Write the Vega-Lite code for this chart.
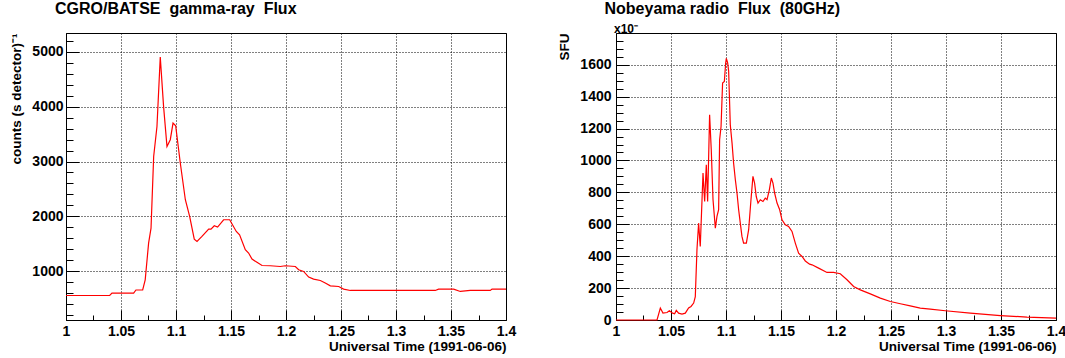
{
  "$schema": "https://vega.github.io/schema/vega-lite/v6.json",
  "padding": {"left": 9, "top": 0, "right": 0, "bottom": 0},
  "background": "white",
  "spacing": 110,
  "bounds": "flush",
  "config": {
    "font": "Liberation Sans",
    "view": {"stroke": "black", "strokeWidth": 1},
    "axis": {
      "labelFont": "Liberation Sans",
      "labelFontWeight": "bold",
      "labelFontSize": 14,
      "labelColor": "black",
      "titleFont": "Liberation Sans",
      "titleFontWeight": "bold",
      "titleFontSize": 13.5,
      "titleColor": "black",
      "domainColor": "black",
      "tickColor": "black",
      "gridColor": "black",
      "gridDash": [1, 2],
      "gridWidth": 1,
      "labelOverlap": false,
      "labelFlush": false,
      "titleAnchor": "end"
    },
    "title": {
      "font": "Liberation Sans",
      "fontSize": 16,
      "fontWeight": "bold",
      "color": "black",
      "anchor": "start",
      "frame": "group",
      "baseline": "alphabetic"
    }
  },
  "datasets": {
    "batse": [
      {"t": 1.0, "v": 554}, {"t": 1.0397, "v": 554}, {"t": 1.0418, "v": 598}, {"t": 1.0615, "v": 598},
      {"t": 1.0636, "v": 655}, {"t": 1.0697, "v": 655}, {"t": 1.072, "v": 841}, {"t": 1.0751, "v": 1511},
      {"t": 1.0773, "v": 1785}, {"t": 1.0797, "v": 3093}, {"t": 1.0827, "v": 3640}, {"t": 1.0857, "v": 4908},
      {"t": 1.0887, "v": 4006}, {"t": 1.0918, "v": 3275}, {"t": 1.0948, "v": 3398}, {"t": 1.0973, "v": 3702},
      {"t": 1.0997, "v": 3653}, {"t": 1.1039, "v": 2972}, {"t": 1.1085, "v": 2302}, {"t": 1.1124, "v": 1997},
      {"t": 1.1166, "v": 1584}, {"t": 1.1191, "v": 1541}, {"t": 1.1236, "v": 1632}, {"t": 1.1297, "v": 1767},
      {"t": 1.1318, "v": 1767}, {"t": 1.1348, "v": 1827}, {"t": 1.1378, "v": 1803}, {"t": 1.1433, "v": 1937},
      {"t": 1.1488, "v": 1937}, {"t": 1.1548, "v": 1723}, {"t": 1.1578, "v": 1663}, {"t": 1.163, "v": 1389},
      {"t": 1.166, "v": 1329}, {"t": 1.1691, "v": 1219}, {"t": 1.1736, "v": 1160}, {"t": 1.1782, "v": 1102},
      {"t": 1.1857, "v": 1097}, {"t": 1.1948, "v": 1084}, {"t": 1.1994, "v": 1097}, {"t": 1.2085, "v": 1084},
      {"t": 1.2115, "v": 1024}, {"t": 1.216, "v": 993}, {"t": 1.2206, "v": 890}, {"t": 1.2251, "v": 854},
      {"t": 1.2312, "v": 828}, {"t": 1.2357, "v": 781}, {"t": 1.2403, "v": 731}, {"t": 1.2479, "v": 719},
      {"t": 1.2524, "v": 671}, {"t": 1.2585, "v": 646}, {"t": 1.3357, "v": 646}, {"t": 1.3387, "v": 671},
      {"t": 1.3524, "v": 671}, {"t": 1.3585, "v": 628}, {"t": 1.3675, "v": 646}, {"t": 1.3857, "v": 646},
      {"t": 1.3873, "v": 671}, {"t": 1.4, "v": 671}
    ],
    "nobe": [
      {"t": 1.0, "v": 0}, {"t": 1.0373, "v": 0}, {"t": 1.0403, "v": 75}, {"t": 1.0427, "v": 43},
      {"t": 1.0464, "v": 47}, {"t": 1.0485, "v": 58}, {"t": 1.0515, "v": 43}, {"t": 1.0533, "v": 39},
      {"t": 1.0548, "v": 60}, {"t": 1.0569, "v": 43}, {"t": 1.06, "v": 37}, {"t": 1.063, "v": 43},
      {"t": 1.066, "v": 75}, {"t": 1.0682, "v": 85}, {"t": 1.0706, "v": 106}, {"t": 1.0721, "v": 147},
      {"t": 1.0736, "v": 440}, {"t": 1.0751, "v": 607}, {"t": 1.0766, "v": 461}, {"t": 1.0782, "v": 754},
      {"t": 1.0791, "v": 921}, {"t": 1.0806, "v": 743}, {"t": 1.0821, "v": 973}, {"t": 1.0833, "v": 743},
      {"t": 1.0851, "v": 1287}, {"t": 1.0866, "v": 1067}, {"t": 1.0882, "v": 754}, {"t": 1.0903, "v": 576},
      {"t": 1.0918, "v": 649}, {"t": 1.0933, "v": 691}, {"t": 1.0942, "v": 1130}, {"t": 1.0955, "v": 1213},
      {"t": 1.0969, "v": 1485}, {"t": 1.0985, "v": 1495}, {"t": 1.0997, "v": 1611}, {"t": 1.1003, "v": 1640},
      {"t": 1.1015, "v": 1611}, {"t": 1.1024, "v": 1560}, {"t": 1.1039, "v": 1224}, {"t": 1.1055, "v": 1109},
      {"t": 1.1069, "v": 984}, {"t": 1.1085, "v": 879}, {"t": 1.11, "v": 796}, {"t": 1.1115, "v": 691},
      {"t": 1.113, "v": 607}, {"t": 1.1145, "v": 524}, {"t": 1.116, "v": 482}, {"t": 1.1185, "v": 482},
      {"t": 1.1206, "v": 566}, {"t": 1.1227, "v": 754}, {"t": 1.1245, "v": 900}, {"t": 1.126, "v": 858},
      {"t": 1.1275, "v": 774}, {"t": 1.1291, "v": 733}, {"t": 1.1312, "v": 754}, {"t": 1.1336, "v": 743},
      {"t": 1.1357, "v": 764}, {"t": 1.1373, "v": 754}, {"t": 1.1394, "v": 816}, {"t": 1.1412, "v": 890},
      {"t": 1.1427, "v": 858}, {"t": 1.1442, "v": 796}, {"t": 1.1464, "v": 733}, {"t": 1.1488, "v": 691},
      {"t": 1.1509, "v": 628}, {"t": 1.1539, "v": 597}, {"t": 1.1569, "v": 586}, {"t": 1.16, "v": 555},
      {"t": 1.163, "v": 482}, {"t": 1.166, "v": 419}, {"t": 1.1691, "v": 398}, {"t": 1.1721, "v": 370},
      {"t": 1.176, "v": 350}, {"t": 1.1782, "v": 346}, {"t": 1.1842, "v": 325}, {"t": 1.1918, "v": 298},
      {"t": 1.1978, "v": 298}, {"t": 1.2039, "v": 290}, {"t": 1.21, "v": 252}, {"t": 1.216, "v": 210},
      {"t": 1.2221, "v": 189}, {"t": 1.2312, "v": 164}, {"t": 1.2403, "v": 137}, {"t": 1.2494, "v": 116},
      {"t": 1.2585, "v": 102}, {"t": 1.2675, "v": 89}, {"t": 1.2766, "v": 75}, {"t": 1.2857, "v": 68},
      {"t": 1.2994, "v": 58}, {"t": 1.3221, "v": 43}, {"t": 1.3494, "v": 28}, {"t": 1.3736, "v": 18},
      {"t": 1.4, "v": 12}
    ],
    "note": [{"label": "x10\u207b"}]
  },
  "hconcat": [
    {
      "width": 440,
      "height": 287,
      "title": {"text": "CGRO/BATSE\u00a0 gamma-ray\u00a0 Flux", "dx": -11, "offset": 16},
      "data": {"name": "batse"},
      "mark": {"type": "line", "color": "#ff0000", "strokeWidth": 1.2, "interpolate": "linear"},
      "encoding": {
        "x": {
          "field": "t", "type": "quantitative",
          "scale": {"domain": [1, 1.4], "nice": false, "zero": false},
          "axis": {
            "title": "Universal Time (1991-06-06)",
            "values": [1, 1.025, 1.05, 1.075, 1.1, 1.125, 1.15, 1.175, 1.2, 1.225, 1.25, 1.275, 1.3, 1.325, 1.35, 1.375, 1.4],
            "format": "~g",
            "labelOverlap": false,
            "labelExpr": "abs(datum.value*20 - round(datum.value*20)) < 0.000001 ? datum.label : ''",
            "tickSize": {"condition": {"test": "abs(datum.value*20 - round(datum.value*20)) < 0.000001", "value": -10}, "value": -5},
            "gridOpacity": {"condition": {"test": "abs(datum.value*20 - round(datum.value*20)) < 0.000001", "value": 1}, "value": 0},
            "labelPadding": 14.5,
            "titlePadding": -4
          }
        },
        "y": {
          "field": "v", "type": "quantitative",
          "scale": {"domain": [107, 5346], "nice": false, "zero": false},
          "axis": {
            "title": "counts (s detector)\u207b\u00b9",
            "values": [200, 400, 600, 800, 1000, 1200, 1400, 1600, 1800, 2000, 2200, 2400, 2600, 2800, 3000, 3200, 3400, 3600, 3800, 4000, 4200, 4400, 4600, 4800, 5000, 5200],
            "format": "d",
            "labelOverlap": false,
            "labelExpr": "datum.value % 1000 === 0 ? datum.label : ''",
            "tickSize": {"condition": {"test": "datum.value % 1000 === 0", "value": -13}, "value": -7},
            "gridOpacity": {"condition": {"test": "datum.value % 1000 === 0", "value": 1}, "value": 0},
            "labelPadding": 16,
            "titlePadding": 8
          }
        }
      }
    },
    {
      "width": 440,
      "height": 287,
      "title": {"text": "Nobeyama radio\u00a0 Flux\u00a0 (80GHz)", "dx": -11.5, "offset": 6.5},
      "layer": [
        {
          "data": {"name": "nobe"},
          "mark": {"type": "line", "color": "#ff0000", "strokeWidth": 1.2, "interpolate": "linear"},
          "encoding": {
            "x": {
              "field": "t", "type": "quantitative",
              "scale": {"domain": [1, 1.4], "nice": false, "zero": false},
              "axis": {
                "title": "Universal Time (1991-06-06)",
                "values": [1, 1.025, 1.05, 1.075, 1.1, 1.125, 1.15, 1.175, 1.2, 1.225, 1.25, 1.275, 1.3, 1.325, 1.35, 1.375, 1.4],
                "format": "~g",
                "labelOverlap": false,
                "labelExpr": "abs(datum.value*20 - round(datum.value*20)) < 0.000001 ? datum.label : ''",
                "tickSize": {"condition": {"test": "abs(datum.value*20 - round(datum.value*20)) < 0.000001", "value": -10}, "value": -5},
                "gridOpacity": {"condition": {"test": "abs(datum.value*20 - round(datum.value*20)) < 0.000001", "value": 1}, "value": 0},
                "labelPadding": 14.5,
                "titlePadding": -4
              }
            },
            "y": {
              "field": "v", "type": "quantitative",
              "scale": {"domain": [0, 1799], "nice": false, "zero": false},
              "axis": {
                "title": "SFU",
                "values": [0, 50, 100, 150, 200, 250, 300, 350, 400, 450, 500, 550, 600, 650, 700, 750, 800, 850, 900, 950, 1000, 1050, 1100, 1150, 1200, 1250, 1300, 1350, 1400, 1450, 1500, 1550, 1600, 1650, 1700, 1750],
                "format": "d",
                "labelOverlap": false,
                "labelExpr": "datum.value % 200 === 0 ? datum.label : ''",
                "tickSize": {"condition": {"test": "datum.value % 200 === 0", "value": -13}, "value": -7},
                "gridOpacity": {"condition": {"test": "datum.value % 200 === 0", "value": 1}, "value": 0},
                "labelPadding": 18,
                "titlePadding": 8
              }
            }
          }
        },
        {
          "data": {"name": "note"},
          "mark": {"type": "text", "font": "Liberation Sans", "fontWeight": "bold", "fontSize": 12, "align": "left", "baseline": "alphabetic", "dx": -2, "dy": 0, "color": "black"},
          "encoding": {
            "text": {"field": "label", "type": "nominal"},
            "x": {
              "datum": 1, "type": "quantitative",
              "axis": {
                "title": "Universal Time (1991-06-06)",
                "values": [1, 1.025, 1.05, 1.075, 1.1, 1.125, 1.15, 1.175, 1.2, 1.225, 1.25, 1.275, 1.3, 1.325, 1.35, 1.375, 1.4],
                "format": "~g",
                "labelOverlap": false,
                "labelExpr": "abs(datum.value*20 - round(datum.value*20)) < 0.000001 ? datum.label : ''",
                "tickSize": {"condition": {"test": "abs(datum.value*20 - round(datum.value*20)) < 0.000001", "value": -10}, "value": -5},
                "gridOpacity": {"condition": {"test": "abs(datum.value*20 - round(datum.value*20)) < 0.000001", "value": 1}, "value": 0},
                "labelPadding": 14.5,
                "titlePadding": -4
              }
            },
            "y": {
              "datum": 1799, "type": "quantitative",
              "axis": {
                "title": "SFU",
                "values": [0, 50, 100, 150, 200, 250, 300, 350, 400, 450, 500, 550, 600, 650, 700, 750, 800, 850, 900, 950, 1000, 1050, 1100, 1150, 1200, 1250, 1300, 1350, 1400, 1450, 1500, 1550, 1600, 1650, 1700, 1750],
                "format": "d",
                "labelOverlap": false,
                "labelExpr": "datum.value % 200 === 0 ? datum.label : ''",
                "tickSize": {"condition": {"test": "datum.value % 200 === 0", "value": -13}, "value": -7},
                "gridOpacity": {"condition": {"test": "datum.value % 200 === 0", "value": 1}, "value": 0},
                "labelPadding": 18,
                "titlePadding": 8
              }
            }
          }
        }
      ]
    }
  ]
}
